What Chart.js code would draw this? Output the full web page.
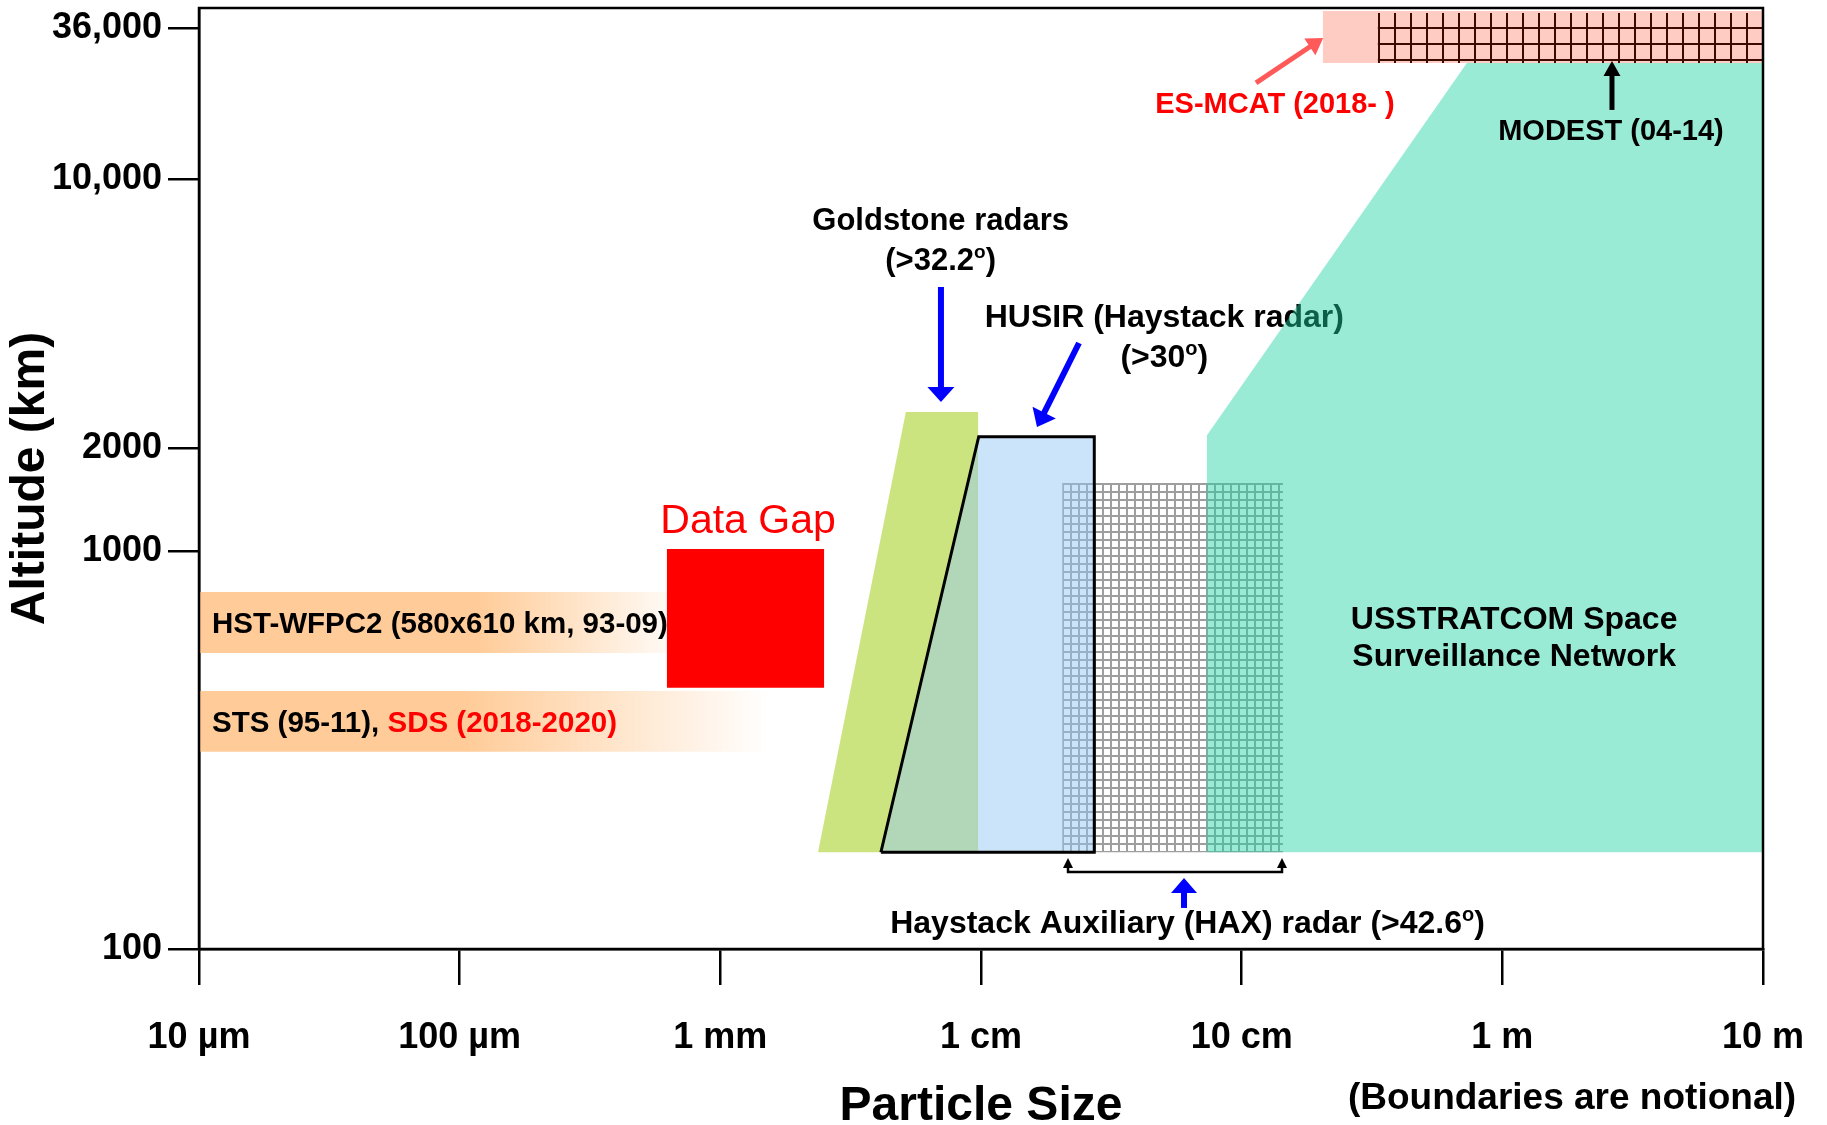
<!DOCTYPE html>
<html>
<head>
<meta charset="utf-8">
<style>
  html, body { margin: 0; padding: 0; background: #ffffff; }
  #wrap { width: 1827px; height: 1125px; }
</style>
<script src="https://cdn.jsdelivr.net/npm/chart.js@4/dist/chart.umd.min.js"></script>
</head>
<body>
<div id="wrap"><canvas id="chart"></canvas></div>
<script>
// ---------------- data ----------------
// particle size in metres (x), altitude in km (y)
const xTickValues = [1e-5, 1e-4, 1e-3, 1e-2, 1e-1, 1, 10];
const xTickLabels = ['10 µm', '100 µm', '1 mm', '1 cm', '10 cm', '1 m', '10 m'];
const yTickValues = [100, 1000, 2000, 10000, 36000];
const yTickLabels = ['100', '1000', '2000', '10,000', '36,000'];
const yAxisMax = 42660;
// the altitude axis is notional: share of the axis height reached at each tick (and at the top)
const yTickShare = [0, 0.4230, 0.5324, 0.8183, 0.9788, 1];

// measured regions: [size (m), altitude (km)]
const hstBand   = [[1e-5, 554], [6.24e-4, 554], [6.24e-4, 789], [1e-5, 789]];
const stsBand   = [[1e-5, 313], [1.55e-3, 313], [1.55e-3, 445], [1e-5, 445]];
const dataGap   = [[6.24e-4, 453], [2.5e-3, 453], [2.5e-3, 1013], [6.24e-4, 1013]];
const goldstone = [[2.37e-3, 175], [5.15e-3, 2480], [9.75e-3, 2480], [9.75e-3, 175]];
const husir     = [[4.13e-3, 175], [9.8e-3, 2140], [2.72e-2, 2140], [2.72e-2, 175], [4.13e-3, 175]];
const hax       = [[2.05e-2, 175], [2.05e-2, 1580], [0.144, 1580], [0.144, 175]];
const ssn       = [[0.0736, 175], [0.0736, 2160], [0.731, 26750], [10, 26750], [10, 175]];
const esmcat    = [[0.205, 26750], [0.205, 41600], [10, 41600], [10, 26750]];
const modest    = [[0.333, 26750], [0.333, 40900], [10, 40900], [10, 26750]];

// pointer arrows: from -> to, [size, altitude]
const arrowFrom = [[7.02e-3, 5241], [0.02377, 3748], [0.1135, 22580], [2.634, 17960], [0.0601, 126.8]];
const arrowTo   = [[7.02e-3, 2634], [0.0164, 2268], [0.2054, 33080], [2.634, 27210], [0.0601, 150.8]];
const haxBracket = [[0.02157, 169.3], [0.02157, 156.1], [0.1428, 156.1], [0.1428, 169.3]];

// ---------------- styles ----------------
const SANS = "'Liberation Sans', Arial, Helvetica, sans-serif";
const NARROW = "'Liberation Sans Narrow', 'Arial Narrow', 'Liberation Sans', Arial, sans-serif";
const arrowStyles = [
  {color: '#0000ff', width: 6, head: 15, headW: 27},
  {color: '#0000ff', width: 6, head: 16, headW: 26},
  {color: '#ff5a5a', width: 5, head: 16, headW: 20},
  {color: '#000000', width: 5, head: 15, headW: 17},
  {color: '#0000ff', width: 6, head: 15, headW: 26}
];

// annotation texts (anchor in data units: size, altitude of first baseline)
const labels = [
  {x: 7.0e-3, y: 7370, size: 31, lead: 40, layer: 'over',
   lines: [[{t: 'Goldstone radars'}], [{t: '(>32.2'}, {t: 'o', sup: true}, {t: ')'}]]},
  {x: 0.0505, y: 4124, size: 32, lead: 40, layer: 'under',
   lines: [[{t: 'HUSIR (Haystack radar)'}], [{t: '(>30'}, {t: 'o', sup: true}, {t: ')'}]]},
  {x: 0.1342, y: 17510, size: 29, color: '#ff0000', layer: 'over', lines: [[{t: 'ES-MCAT (2018- )'}]]},
  {x: 2.611, y: 13920, size: 29, layer: 'over', lines: [[{t: 'MODEST (04-14)'}]]},
  {x: 1.11, y: 635, size: 32, lead: 37, layer: 'over',
   lines: [[{t: 'USSTRATCOM Space'}], [{t: 'Surveillance Network'}]]},
  {x: 0.0620, y: 109.7, size: 32, layer: 'over',
   lines: [[{t: 'Haystack Auxiliary (HAX) radar (>42.6'}, {t: 'o', sup: true}, {t: ')'}]]},
  {x: 1.277e-3, y: 1129, size: 41, weight: 'normal', color: '#ff0000', layer: 'over', lines: [[{t: 'Data Gap'}]]},
  {x: 1.122e-5, y: 622, size: 29.5, align: 'left', layer: 'over', lines: [[{t: 'HST-WFPC2 (580x610 km, 93-09)'}]]},
  {x: 1.122e-5, y: 351, size: 29.5, align: 'left', layer: 'over',
   lines: [[{t: 'STS (95-11), '}, {t: 'SDS (2018-2020)', c: '#ff0000'}]]}
];

// ---------------- notional altitude scale ----------------
const warpValues = yTickValues.concat([yAxisMax]);
class NotionalScale extends Chart.LogarithmicScale {
  _share(v) {
    const lv = Math.log10(v);
    for (let i = 1; i < warpValues.length; i++) {
      if (v <= warpValues[i] || i === warpValues.length - 1) {
        const a = Math.log10(warpValues[i - 1]), b = Math.log10(warpValues[i]);
        return yTickShare[i - 1] + (lv - a) / (b - a) * (yTickShare[i] - yTickShare[i - 1]);
      }
    }
    return 0;
  }
  getPixelForValue(value) {
    if (value === undefined || value === 0) value = this.min;
    if (value === null || isNaN(value) || value <= 0) return NaN;
    return this.getPixelForDecimal(this._share(value));
  }
  getValueForPixel(pixel) {
    const d = this.getDecimalForPixel(pixel);
    for (let i = 1; i < warpValues.length; i++) {
      if (d <= yTickShare[i] || i === warpValues.length - 1) {
        const a = Math.log10(warpValues[i - 1]), b = Math.log10(warpValues[i]);
        const f = (d - yTickShare[i - 1]) / (yTickShare[i] - yTickShare[i - 1]);
        return Math.pow(10, a + f * (b - a));
      }
    }
    return this.min;
  }
}
NotionalScale.id = 'notional';
Chart.register(NotionalScale);

// ---------------- helpers ----------------
const pts = arr => arr.map(([x, y]) => ({x, y}));

function bandGradient(band, solidTo, endAlpha) {
  return (ctx) => {
    const chart = ctx.chart;
    const xs = chart.scales && chart.scales.x;
    if (!xs || !chart.chartArea) return 'rgb(255,204,153)';
    const x0 = xs.getPixelForValue(band[0][0]);
    const x1 = xs.getPixelForValue(band[1][0]);
    if (!isFinite(x0) || !isFinite(x1)) return 'rgb(255,204,153)';
    const g = chart.ctx.createLinearGradient(x0, 0, x1, 0);
    g.addColorStop(0, 'rgba(255,204,153,1)');
    g.addColorStop(solidTo, 'rgba(255,204,153,1)');
    g.addColorStop(1, 'rgba(255,204,153,' + endAlpha + ')');
    return g;
  };
}

function gridPattern(region, topValue, cell, lw, color, offY) {
  return (ctx) => {
    const chart = ctx.chart;
    const xs = chart.scales && chart.scales.x, ys = chart.scales && chart.scales.y;
    if (!xs || !ys || !chart.chartArea) return 'rgba(0,0,0,0)';
    const c = document.createElement('canvas');
    c.width = cell; c.height = cell;
    const g = c.getContext('2d');
    g.fillStyle = color;
    g.fillRect(0, 0, lw, cell);
    g.fillRect(0, 0, cell, lw);
    const p = chart.ctx.createPattern(c, 'repeat');
    const x0 = Math.round(xs.getPixelForValue(region[0][0]));
    const y0 = Math.round(ys.getPixelForValue(topValue)) + offY;
    if (p.setTransform) p.setTransform(new DOMMatrix([1, 0, 0, 1, x0, y0]));
    return p;
  };
}

function region(label, data, bg, order, extra) {
  return Object.assign({
    label, data: pts(data), backgroundColor: bg, fill: 'shape',
    borderWidth: 0, borderColor: 'rgba(0,0,0,0)', pointRadius: 0, pointHoverRadius: 0,
    tension: 0, order
  }, extra || {});
}

// bottom-most first (higher order = drawn earlier)
const datasets = [
  region('HST-WFPC2', hstBand, bandGradient(hstBand, 0.6, 0.1), 20),
  region('STS / SDS', stsBand, bandGradient(stsBand, 0.47, 0), 19),
  region('Data Gap', dataGap, '#ff0000', 18),
  region('Goldstone', goldstone, 'rgb(204,228,128)', 17),
  region('HAX', hax, gridPattern(hax, hax[1][1], 8, 2, '#9e9e9e', 0), 16),
  region('HUSIR', husir, 'rgba(149,199,245,0.48)', 15,
         {borderWidth: 3, borderColor: '#000000', borderJoinStyle: 'miter'}),
  region('USSTRATCOM SSN', ssn, 'rgba(29,211,164,0.45)', 14),
  region('ES-MCAT', esmcat, 'rgb(255,204,196)', 13),
  region('MODEST', modest, gridPattern(modest, esmcat[1][1], 16, 2, '#3d0a00', 16), 12)
];

// ---------------- drawing plugin ----------------
function drawRichLine(ctx, segs, x, y, align, size, weight, color) {
  const parts = segs.map(s => {
    const sz = s.sup ? Math.round(size * 0.62) : size;
    ctx.font = weight + ' ' + sz + 'px ' + SANS;
    return {s, sz, w: ctx.measureText(s.t).width};
  });
  const total = parts.reduce((a, p) => a + p.w, 0);
  let cx = align === 'center' ? x - total / 2 : (align === 'right' ? x - total : x);
  ctx.textAlign = 'left';
  ctx.textBaseline = 'alphabetic';
  for (const p of parts) {
    ctx.font = weight + ' ' + p.sz + 'px ' + SANS;
    ctx.fillStyle = p.s.c || color;
    ctx.fillText(p.s.t, cx, p.s.sup ? y - size * 0.38 : y);
    cx += p.w;
  }
}

function drawLabels(chart, layer) {
  const ctx = chart.ctx, xs = chart.scales.x, ys = chart.scales.y;
  ctx.save();
  for (const L of labels) {
    if (L.layer !== layer) continue;
    const px = xs.getPixelForValue(L.x), py = ys.getPixelForValue(L.y);
    L.lines.forEach((segs, i) => {
      drawRichLine(ctx, segs, px, py + i * (L.lead || 0), L.align || 'center',
                   L.size, L.weight || 'bold', L.color || '#000000');
    });
  }
  ctx.restore();
}

function drawArrow(ctx, x0, y0, x1, y1, st) {
  const dx = x1 - x0, dy = y1 - y0, len = Math.hypot(dx, dy);
  const ux = dx / len, uy = dy / len;
  const bx = x1 - ux * st.head, by = y1 - uy * st.head;
  ctx.strokeStyle = st.color;
  ctx.fillStyle = st.color;
  ctx.lineWidth = st.width;
  ctx.lineCap = 'butt';
  ctx.beginPath();
  ctx.moveTo(x0, y0);
  ctx.lineTo(bx + ux, by + uy);
  ctx.stroke();
  ctx.beginPath();
  ctx.moveTo(x1, y1);
  ctx.lineTo(bx - uy * st.headW / 2, by + ux * st.headW / 2);
  ctx.lineTo(bx + uy * st.headW / 2, by - ux * st.headW / 2);
  ctx.closePath();
  ctx.fill();
}

const annotate = {
  id: 'annotate',
  beforeDatasetsDraw(chart) { drawLabels(chart, 'under'); },
  afterDatasetsDraw(chart) {
    const ctx = chart.ctx, xs = chart.scales.x, ys = chart.scales.y;
    ctx.save();
    arrowFrom.forEach((f, i) => {
      const t = arrowTo[i];
      drawArrow(ctx, xs.getPixelForValue(f[0]), ys.getPixelForValue(f[1]),
                xs.getPixelForValue(t[0]), ys.getPixelForValue(t[1]), arrowStyles[i]);
    });
    // HAX bracket with small up-pointing heads
    const b = haxBracket.map(([x, y]) => [xs.getPixelForValue(x), ys.getPixelForValue(y)]);
    ctx.strokeStyle = '#000'; ctx.fillStyle = '#000'; ctx.lineWidth = 2.5; ctx.lineJoin = 'miter';
    ctx.beginPath();
    ctx.moveTo(b[0][0], b[0][1] + 8);
    ctx.lineTo(b[1][0], b[1][1]);
    ctx.lineTo(b[2][0], b[2][1]);
    ctx.lineTo(b[3][0], b[3][1] + 8);
    ctx.stroke();
    [b[0], b[3]].forEach(([x, y]) => {
      ctx.beginPath();
      ctx.moveTo(x, y);
      ctx.lineTo(x - 5, y + 10);
      ctx.lineTo(x + 5, y + 10);
      ctx.closePath();
      ctx.fill();
    });
    ctx.restore();
    drawLabels(chart, 'over');
  },
  afterDraw(chart) {
    const ctx = chart.ctx, a = chart.chartArea;
    ctx.save();
    ctx.strokeStyle = '#000';
    ctx.lineWidth = 2.5;
    ctx.strokeRect(a.left, a.top, a.right - a.left, a.bottom - a.top);
    ctx.font = 'bold 37px ' + NARROW;
    ctx.fillStyle = '#000';
    ctx.textAlign = 'center';
    ctx.textBaseline = 'alphabetic';
    ctx.fillText('(Boundaries are notional)', chart.scales.x.getPixelForValue(1.85), chart.height - 16);
    ctx.restore();
  }
};

// ---------------- chart ----------------
new Chart(document.getElementById('chart'), {
  type: 'line',
  data: { datasets },
  plugins: [annotate],
  options: {
    responsive: true,
    maintainAspectRatio: false,
    devicePixelRatio: 1,
    animation: false,
    events: [],
    layout: { padding: { left: 0, top: 8, right: 64, bottom: 0 } },
    plugins: { legend: { display: false }, tooltip: { enabled: false } },
    scales: {
      x: {
        type: 'logarithmic', min: 1e-5, max: 10, bounds: 'data',
        afterBuildTicks: s => { s.ticks = xTickValues.map(v => ({value: v})); },
        afterFit: s => { s.height = 176; s.paddingLeft = 0; s.paddingRight = 0; },
        ticks: {
          callback: (v, i) => xTickLabels[i],
          font: { family: NARROW, size: 36, weight: 'bold' },
          color: '#000', padding: 31, maxRotation: 0, minRotation: 0, autoSkip: false,
          major: { enabled: false }
        },
        grid: { drawOnChartArea: false, drawTicks: true, tickLength: 36, color: '#000', lineWidth: 2.5 },
        border: { display: true, color: '#000', width: 2.5 },
        title: {
          display: true, text: 'Particle Size', color: '#000', padding: 0,
          font: { family: NARROW, size: 48, weight: 'bold', lineHeight: 0.75 }
        }
      },
      y: {
        type: 'notional', min: 100, max: yAxisMax, bounds: 'data',
        afterBuildTicks: s => { s.ticks = yTickValues.map(v => ({value: v})); },
        afterFit: s => { s.width = 199; s.paddingTop = 0; s.paddingBottom = 0; },
        ticks: {
          callback: (v, i) => yTickLabels[i],
          font: { family: SANS, size: 36, weight: 'bold' },
          color: '#000', padding: 6, autoSkip: false, major: { enabled: false }
        },
        grid: { drawOnChartArea: false, drawTicks: true, tickLength: 31, color: '#000', lineWidth: 2.5 },
        border: { display: true, color: '#000', width: 2.5 },
        title: {
          display: true, text: 'Altitude (km)', color: '#000', padding: 0,
          font: { family: SANS, size: 48, weight: 'bold', lineHeight: 1.3 }
        }
      }
    }
  }
});
</script>
</body>
</html>
